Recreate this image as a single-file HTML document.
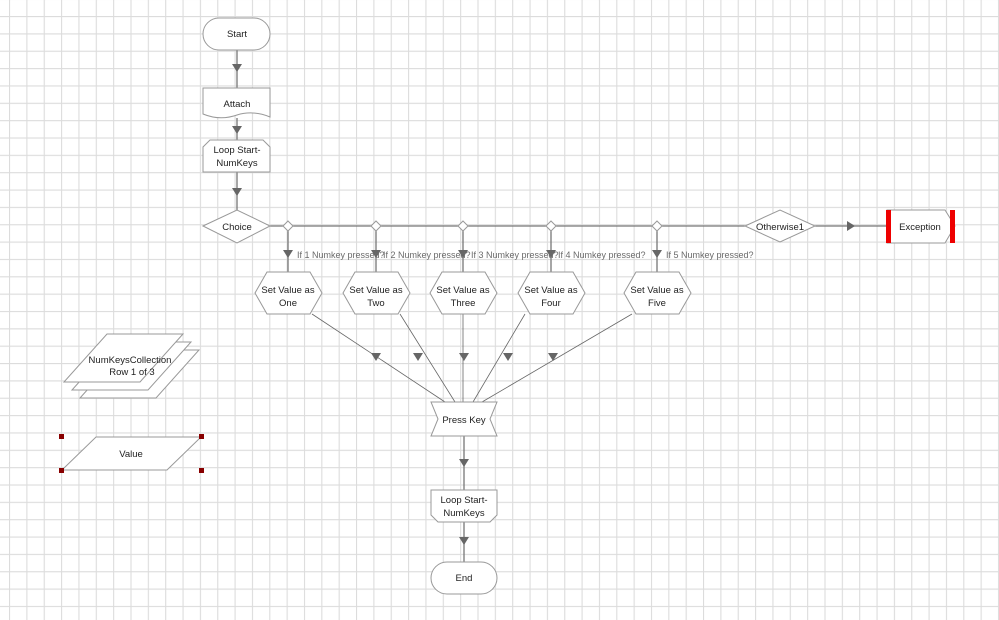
<!DOCTYPE html>
<html><head><meta charset="utf-8"><style>
html,body{margin:0;padding:0;background:#fff}
svg{display:block}
text{font-family:"Liberation Sans",sans-serif;font-size:9.5px;fill:#222}
.s{fill:#fff;stroke:#999;stroke-width:1}
.l{stroke:#777;stroke-width:1.3;fill:none}
.t{stroke:#666;stroke-width:0.8;fill:none}
.a{fill:#666}
.lab{fill:#6a6a6a;font-size:9px}
</style></head><body>
<svg width="999" height="620" viewBox="0 0 999 620" xmlns="http://www.w3.org/2000/svg">
<defs>
<pattern id="g" x="9" y="16" width="17.35" height="17.35" patternUnits="userSpaceOnUse">
<path d="M0.5 0V17.35M0 0.5H17.35" stroke="#dcdcdc" stroke-width="1.2" fill="none"/>
</pattern>
</defs>
<rect width="999" height="620" fill="url(#g)"/>

<!-- main vertical connectors -->
<path class="l" d="M237 50V88M237 118V140M237 172V210"/>
<polygon class="a" points="232,64 242,64 237,72"/>
<polygon class="a" points="232,126 242,126 237,134"/>
<polygon class="a" points="232,188 242,188 237,196"/>

<!-- Start -->
<rect class="s" x="203" y="18" width="67" height="32" rx="16"/>
<text x="237" y="37" text-anchor="middle">Start</text>
<!-- Attach -->
<path class="s" d="M203 88H270V117Q253 110 237 115Q220 121 203 114Z"/>
<text x="237" y="107" text-anchor="middle">Attach</text>
<!-- Loop start -->
<path class="s" d="M210 140H263L270 147V172H203V147Z"/>
<text x="237" y="153" text-anchor="middle">Loop Start-</text>
<text x="237" y="166" text-anchor="middle">NumKeys</text>

<!-- horizontal branch line -->
<path class="l" d="M270 226H745M815 226H887"/>
<polygon class="a" points="847,221 847,231 855,226"/>
<!-- Choice -->
<polygon class="s" points="203,226 237,210 270,226 237,243"/>
<text x="237" y="230" text-anchor="middle">Choice</text>
<!-- Otherwise -->
<polygon class="s" points="745,226 780,210 815,226 780,242"/>
<text x="780" y="230" text-anchor="middle">Otherwise1</text>
<!-- Exception -->
<path class="s" d="M887 210H945L955 226L945 243H887Z"/>
<rect x="886" y="210" width="5" height="33" fill="#e00"/>
<rect x="950" y="210" width="5" height="33" fill="#e00"/>
<text x="920" y="230" text-anchor="middle">Exception</text>

<!-- branches -->
<g>
<path class="l" d="M288 226V272M376 226V272M463 226V272M551 226V272M657 226V272"/>
<polygon class="a" points="283,250 293,250 288,258"/>
<polygon class="a" points="371,250 381,250 376,258"/>
<polygon class="a" points="458,250 468,250 463,258"/>
<polygon class="a" points="546,250 556,250 551,258"/>
<polygon class="a" points="652,250 662,250 657,258"/>
<polygon class="s" points="288,221 293,226 288,231 283,226"/>
<polygon class="s" points="376,221 381,226 376,231 371,226"/>
<polygon class="s" points="463,221 468,226 463,231 458,226"/>
<polygon class="s" points="551,221 556,226 551,231 546,226"/>
<polygon class="s" points="657,221 662,226 657,231 652,226"/>
<text class="lab" x="297" y="258">If 1 Numkey pressed?</text>
<text class="lab" x="383" y="258">If 2 Numkey pressed?</text>
<text class="lab" x="471" y="258">If 3 Numkey pressed?</text>
<text class="lab" x="558" y="258">If 4 Numkey pressed?</text>
<text class="lab" x="666" y="258">If 5 Numkey pressed?</text>
</g>

<!-- lines into Press Key -->
<path class="t" d="M312 314L445 402M400 314L455 402M463 314V402M525 314L473 402M632 314L482 402"/>
<polygon class="a" points="371,353 381,353 376,361"/>
<polygon class="a" points="413,353 423,353 418,361"/>
<polygon class="a" points="459,353 469,353 464,361"/>
<polygon class="a" points="503,353 513,353 508,361"/>
<polygon class="a" points="548,353 558,353 553,361"/>

<!-- hexagons -->
<g>
<polygon class="s" points="255,293 267,272 310,272 322,293 310,314 267,314"/>
<text x="288" y="293" text-anchor="middle">Set Value as</text><text x="288" y="306" text-anchor="middle">One</text>
<polygon class="s" points="343,293 355,272 398,272 410,293 398,314 355,314"/>
<text x="376" y="293" text-anchor="middle">Set Value as</text><text x="376" y="306" text-anchor="middle">Two</text>
<polygon class="s" points="430,293 442,272 485,272 497,293 485,314 442,314"/>
<text x="463" y="293" text-anchor="middle">Set Value as</text><text x="463" y="306" text-anchor="middle">Three</text>
<polygon class="s" points="518,293 530,272 573,272 585,293 573,314 530,314"/>
<text x="551" y="293" text-anchor="middle">Set Value as</text><text x="551" y="306" text-anchor="middle">Four</text>
<polygon class="s" points="624,293 636,272 679,272 691,293 679,314 636,314"/>
<text x="657" y="293" text-anchor="middle">Set Value as</text><text x="657" y="306" text-anchor="middle">Five</text>
</g>

<!-- Press Key -->
<path class="l" d="M464 436V490M464 522V562"/>
<polygon class="a" points="459,459 469,459 464,467"/>
<polygon class="a" points="459,537 469,537 464,545"/>
<polygon class="s" points="431,402 497,402 490,419 497,436 431,436 438,419"/>
<text x="464" y="423" text-anchor="middle">Press Key</text>
<!-- Loop end -->
<path class="s" d="M431 490H497V515L490 522H438L431 515Z"/>
<text x="464" y="503" text-anchor="middle">Loop Start-</text>
<text x="464" y="516" text-anchor="middle">NumKeys</text>
<!-- End -->
<rect class="s" x="431" y="562" width="66" height="32" rx="16"/>
<text x="464" y="581" text-anchor="middle">End</text>

<!-- Collection -->
<polygon class="s" points="80,398 123,350 199,350 156,398"/>
<polygon class="s" points="72,390 115,342 191,342 148,390"/>
<polygon class="s" points="64,382 107,334 183,334 140,382"/>
<text x="130" y="363" text-anchor="middle">NumKeysCollection</text>
<text x="132" y="375" text-anchor="middle">Row 1 of 3</text>

<!-- Value -->
<polygon class="s" points="62,470 96,437 201,437 167,470"/>
<text x="131" y="457" text-anchor="middle">Value</text>
<rect x="59" y="434" width="5" height="5" fill="#800"/>
<rect x="199" y="434" width="5" height="5" fill="#800"/>
<rect x="59" y="468" width="5" height="5" fill="#800"/>
<rect x="199" y="468" width="5" height="5" fill="#800"/>
</svg>
</body></html>
